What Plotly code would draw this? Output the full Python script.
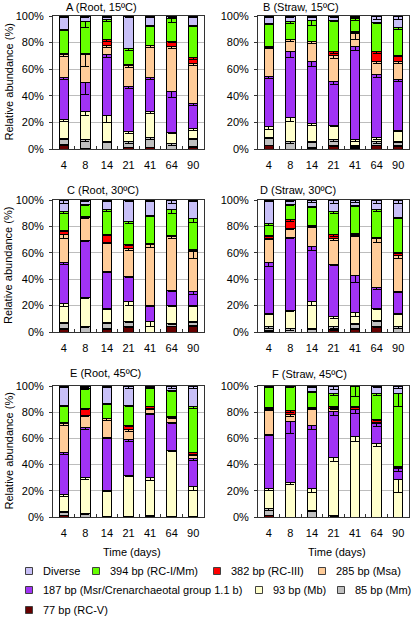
import plotly.graph_objects as go

W, H = 417, 618

DAYS = ["4", "8", "14", "21", "41", "64", "90"]
SERIES = ["77 bp (RC-V)", "85 bp (Mm)", "93 bp (Mb)",
          "187 bp (Msr/Crenarchaeotal group 1.1 b)", "285 bp (Msa)",
          "382 bp (RC-III)", "394 bp (RC-I/Mm)", "Diverse"]
COLORS = ["#660000", "#C0C0C0", "#FFFFCC", "#A033F5", "#FFCC99",
          "#FF0000", "#66FF00", "#C8C0F8"]
TITLES = ["A (Root, 15ºC)", "B (Straw, 15ºC)", "C (Root, 30ºC)",
          "D (Straw, 30ºC)", "E (Root, 45ºC)", "F (Straw, 45ºC)"]
Y_TICKS = [0, 20, 40, 60, 80, 100]
Y_TICK_LABELS = ["0%", "20%", "40%", "60%", "80%", "100%"]

# values per series (order of SERIES), one list per series, days in order of DAYS
A_VALUES = [
    [3.5, 0.5, 0, 1.5, 1.5, 0, 2],
    [4.5, 6.5, 6, 4, 7, 4, 6],
    [14, 21, 19, 7.5, 20, 8.5, 7.5],
    [32, 22, 46, 34, 25.5, 30.5, 18.5],
    [17, 21, 7, 16, 23.5, 34, 30],
    [1, 1, 4, 0.5, 0.5, 4, 4.5],
    [18, 24, 15, 12, 15, 17, 24.5],
    [10, 4, 3, 24.5, 7, 2, 7],
]
B_VALUES = [
    [3, 0, 1, 2.5, 1, 3, 2.5],
    [6, 5.5, 5, 4.5, 2, 2.5, 3.5],
    [8, 18.5, 13, 11, 4, 3, 8],
    [37.5, 49, 47, 32.5, 70, 47.5, 38],
    [22, 9, 14.5, 19.5, 10, 10, 13.5],
    [0.5, 0.5, 0.5, 3, 1, 7, 5],
    [17.5, 13, 15.5, 23.5, 10, 22, 20.5],
    [5.5, 4.5, 3.5, 3.5, 2, 5, 9],
]
C_VALUES = [
    [2.5, 0, 2.5, 4, 0, 4.5, 5],
    [5, 4.5, 5, 4, 0, 2, 3],
    [14, 22, 10.5, 15, 8, 13.5, 12],
    [31.5, 43, 28, 19, 12, 11.5, 10.5],
    [21, 17.5, 22, 21, 46, 40.5, 30.5],
    [3, 0.5, 6, 3.5, 1, 1, 1.5],
    [14, 9, 18.5, 17.5, 21.5, 19.5, 23.5],
    [9, 3.5, 7.5, 16, 11.5, 7.5, 14],
]
D_VALUES = [
    [1, 0, 0, 2, 2.5, 4, 0],
    [3, 2.5, 3, 2, 4, 5, 4],
    [10, 14, 20, 7.5, 8.5, 9, 10],
    [39, 55, 41.5, 40, 27.5, 16, 17],
    [18, 7, 15.5, 19, 30.5, 37, 27],
    [2, 6.5, 0.5, 3, 1.5, 0.5, 2],
    [9, 11.5, 14.5, 17.5, 21.5, 21, 27],
    [18, 3.5, 5, 9, 4, 7.5, 13],
]
E_VALUES = [
    [1.5, 0, 0, 0, 1, 0, 0.5],
    [3, 3, 0.5, 0.5, 0, 0.5, 0],
    [12.5, 27, 20, 31.5, 29, 50.5, 22.5],
    [32.5, 38, 40.5, 27, 49, 21.5, 21.5],
    [21.5, 9.5, 14, 7.5, 4, 3.5, 3.5],
    [1, 5.5, 0.5, 3, 1.5, 1, 1.5],
    [13, 15, 11, 15.5, 14.5, 19.5, 34.5],
    [15, 2, 13.5, 15, 1, 3.5, 16],
]
F_VALUES = [
    [1.3, 0, 0, 0, 0, 0, 0],
    [5, 0, 5, 1, 0, 0, 0],
    [15.1, 26.5, 16.4, 44.3, 61.7, 56, 28.5],
    [41.6, 46.5, 48.6, 35.3, 20.3, 15.3, 8.5],
    [19, 5, 13, 2.4, 0, 1, 0],
    [1.6, 3, 0.5, 1.4, 2, 2, 1.5],
    [16.4, 18.5, 12.5, 9.6, 16, 19.7, 55.5],
    [0, 0.5, 4, 6, 0, 6, 6],
]

# standard errors, same layout as values
A_ERRORS = [
    [0.5, 0.5, 0, 0.5, 0.5, 0, 0.5],
    [1, 1, 1, 1, 1, 1, 1],
    [1.5, 3, 5, 1.5, 2, 1, 1.5],
    [2, 9, 2, 1.5, 1.5, 4, 1.5],
    [1.5, 9, 2, 1.5, 1, 1.5, 1.5],
    [0.5, 0.5, 1, 0.5, 0.5, 1, 1],
    [1, 5, 1.5, 1.5, 1, 3, 1],
    [1, 1, 1, 1, 1, 1, 1],
]
B_ERRORS = [
    [0.5, 0, 0.5, 0.5, 0.5, 0.5, 0.5],
    [1, 1, 1, 1, 1, 1, 1],
    [2, 3, 1.5, 1, 1.5, 1, 1],
    [1.5, 4, 4, 2, 3, 2, 1],
    [1, 1, 1, 2, 5, 2, 1.5],
    [0.5, 0.5, 0.5, 1, 0.5, 1, 1],
    [1, 1, 4, 1, 1.5, 1, 1],
    [1, 1, 1, 1, 1, 3, 3],
]
C_ERRORS = [
    [0.5, 0, 0.5, 0.5, 0, 0.5, 0.5],
    [1, 1, 1, 1, 0, 1, 1],
    [2, 1, 1, 3, 4, 1, 1],
    [2, 1, 1, 1, 1, 1, 2],
    [3, 1, 1, 1, 2, 1, 5],
    [0.5, 0.5, 1, 1, 0.5, 0.5, 0.5],
    [1, 1, 1, 2, 1, 3, 3],
    [3, 1, 1, 1, 1, 3, 1],
]
D_ERRORS = [
    [0.5, 0, 0, 0.5, 0.5, 0.5, 0],
    [1, 1, 1, 1, 1, 1, 1],
    [1, 1, 3, 1, 3, 1, 1],
    [3, 1, 3, 1, 5, 2, 1],
    [1, 1, 1, 1, 1, 3, 2],
    [0.5, 1, 0.5, 1, 0.5, 0.5, 0.5],
    [1, 1, 1, 1, 1, 1, 1],
    [1, 1, 2, 3, 2, 3, 3],
]
E_ERRORS = [
    [0.5, 0, 0, 0, 0.5, 0, 0.5],
    [1, 1, 0.5, 0.5, 0, 0.5, 0],
    [1.5, 1, 1, 1, 2, 1, 3],
    [1.5, 1, 1, 1, 1, 1, 1],
    [1, 1, 1, 1, 1, 1, 1],
    [0.5, 1, 0.5, 0.5, 0.5, 0.5, 0.5],
    [1, 1, 1, 1, 1, 1, 1],
    [1, 1, 1, 2, 1, 2, 2],
]
F_ERRORS = [
    [0.5, 0, 0, 0, 0, 0, 0],
    [1, 0, 1, 0.5, 0, 0, 0],
    [1, 2, 3, 3, 4, 2, 10],
    [1, 9, 3, 3, 3, 2, 2],
    [1, 1, 1, 1, 0, 1, 0],
    [0.5, 1, 0.5, 0.5, 0.5, 0.5, 0.5],
    [1, 1, 1, 1, 8, 1, 10],
    [0, 1, 1, 3, 0, 1, 2],
]

PANEL_VALUES = [A_VALUES, B_VALUES, C_VALUES, D_VALUES, E_VALUES, F_VALUES]
PANEL_ERRORS = [A_ERRORS, B_ERRORS, C_ERRORS, D_ERRORS, E_ERRORS, F_ERRORS]

# ---- layout geometry (pixels) ----
COL_X = [(53, 204), (258, 409)]
ROW_Y = [(16, 149), (200, 332), (386, 517)]
TITLE_POS = [(101, 7), (301, 7), (103, 190), (298, 190), (105, 373), (309, 374)]
FONT = "Liberation Sans, Arial, sans-serif"


def px(x):
    return x / W


def py(y):
    return 1 - y / H


fig = go.Figure()
layout = dict(
    template="none",
    width=W, height=H,
    margin=dict(l=0, r=0, t=0, b=0, pad=0, autoexpand=False),
    paper_bgcolor="white", plot_bgcolor="white",
    barmode="stack", bargap=0.56,
    showlegend=False,
    font=dict(family=FONT, size=11, color="black"),
)

annotations = []
shapes = []

for k in range(6):
    r, c = divmod(k, 2)
    sfx = "" if k == 0 else str(k + 1)
    xa, ya = "x" + sfx, "y" + sfx
    for j, name in enumerate(SERIES):
        fig.add_trace(go.Bar(
            x=DAYS, y=PANEL_VALUES[k][j], name=name,
            marker=dict(color=COLORS[j], line=dict(color="black", width=1)),
            error_y=dict(type="data", array=PANEL_ERRORS[k][j], visible=True,
                         color="black", thickness=1, width=4),
            xaxis=xa, yaxis=ya, showlegend=False, hoverinfo="skip",
        ))
    x0, x1 = COL_X[c]
    y0, y1 = ROW_Y[r]
    layout["xaxis" + sfx] = dict(
        domain=[px(x0), px(x1)], anchor=ya, type="category",
        categoryorder="array", categoryarray=DAYS, automargin=False,
        showline=True, linecolor="#333333", linewidth=1, mirror=True,
        ticks="inside", tickson="boundaries", ticklen=3, tickcolor="#333333",
        showgrid=False, tickfont=dict(size=11), ticklabelstandoff=6,
    )
    layout["yaxis" + sfx] = dict(
        domain=[py(y1), py(y0)], anchor=xa, range=[0, 100], automargin=False,
        tickmode="array", tickvals=Y_TICKS, ticktext=Y_TICK_LABELS,
        showgrid=True, gridcolor="#BDBDBD", gridwidth=1,
        showline=True, linecolor="#333333", linewidth=1, mirror=True,
        ticks="outside", ticklen=3, tickcolor="#333333",
        tickfont=dict(size=11), ticklabelstandoff=3, zeroline=False,
    )
    tx, ty = TITLE_POS[k]
    annotations.append(dict(text=TITLES[k], x=px(tx), y=py(ty), xref="paper", yref="paper",
                            xanchor="center", yanchor="middle", showarrow=False,
                            font=dict(size=11)))
    if c == 0:
        annotations.append(dict(text="Relative abundance (%)", x=px(8), y=py((y0 + y1) / 2),
                                xref="paper", yref="paper", textangle=-90,
                                xanchor="center", yanchor="middle", showarrow=False,
                                font=dict(size=11)))
    if r == 2:
        annotations.append(dict(text="Time (days)", x=px((x0 + x1) / 2 + 3), y=py(552),
                                xref="paper", yref="paper", xanchor="center", yanchor="middle",
                                showarrow=False, font=dict(size=11)))

# ---- custom legend (Excel-like layout) ----
LEGEND_ORDER = [7, 6, 5, 4, 3, 2, 1, 0]
LEGEND_POS = [(29, 571), (96, 571), (217, 571), (322, 571),
              (29, 590), (259, 590), (341, 590),
              (29, 610)]
for idx, (sx, sy) in zip(LEGEND_ORDER, LEGEND_POS):
    shapes.append(dict(type="rect", xref="paper", yref="paper",
                       x0=px(sx - 3.5), x1=px(sx + 3.5), y0=py(sy + 3.5), y1=py(sy - 3.5),
                       fillcolor=COLORS[idx], line=dict(color="#404040", width=1)))
    annotations.append(dict(text=SERIES[idx], x=px(sx + 12), y=py(sy), xref="paper", yref="paper",
                            xanchor="left", yanchor="middle", showarrow=False,
                            font=dict(size=11)))

layout["annotations"] = annotations
layout["shapes"] = shapes
fig.update_layout(**layout)
fig.write_html("out.html",
               config={"displayModeBar": False},
               post_script="document.body.style.margin='0px';document.body.style.overflow='hidden';")
